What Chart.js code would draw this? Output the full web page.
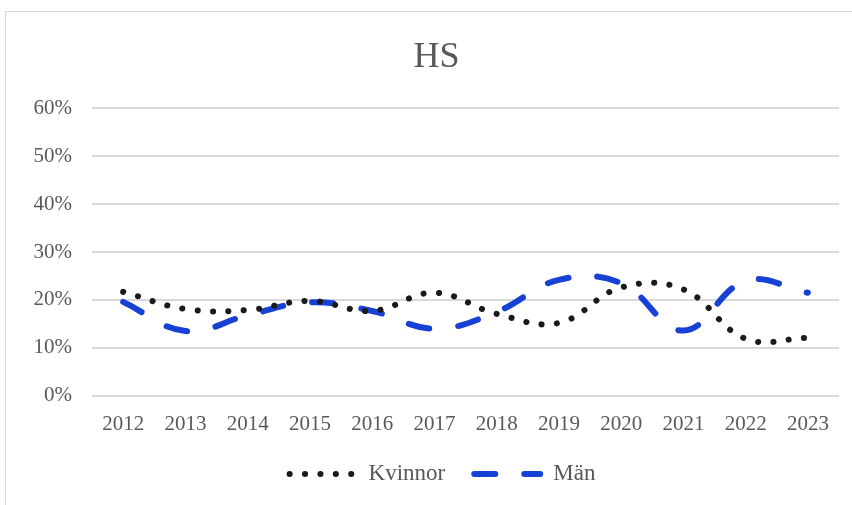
<!DOCTYPE html>
<html>
<head>
  <title>HS</title>
  <script src="https://cdn.jsdelivr.net/npm/chart.js"></script>
  <style>
    body { margin: 0; background: white; }
    #wrap {
      position: absolute;
      left: 5px;
      top: 11px;
      width: 850px;
      height: 496px;
      border: 1px solid #d9d9d9;
    }
  </style>
</head>
<body>
  <div id="wrap"><canvas id="hsChart"></canvas></div>

  <script>
    const years = ["2012", "2013", "2014", "2015", "2016", "2017", "2018", "2019", "2020", "2021", "2022", "2023"];
    const kvinnor = [21.7, 18.1, 17.9, 19.8, 17.7, 21.5, 17.1, 15.2, 22.6, 22.2, 11.9, 12.1];
    const man = [19.6, 13.5, 16.8, 19.5, 17.7, 14.0, 17.5, 24.2, 23.5, 13.6, 24.0, 21.5];
    const yTicks = [0, 10, 20, 30, 40, 50, 60];

    const serif = "Liberation Serif";
    const grey = "#595959";

    // legend drawn by hand so the dotted / dashed styles show up
    const lineLegend = {
      id: 'lineLegend',
      afterDraw(chart) {
        const c = chart.ctx;
        const lineW = 72, gap = 10, between = 26;
        c.save();
        c.font = "23px " + serif;
        const items = chart.data.datasets.map(ds => ({ ds, w: c.measureText(ds.label).width }));
        const total = items.reduce((s, it) => s + lineW + gap + it.w, 0) + between * (items.length - 1);
        let x = chart.width / 2 + 10 - total / 2;
        const y = 462;
        items.forEach(it => {
          c.beginPath();
          c.setLineDash(it.ds.borderDash);
          c.lineCap = it.ds.borderCapStyle;
          c.lineWidth = it.ds.borderWidth;
          c.strokeStyle = it.ds.borderColor;
          c.moveTo(x + 3, y);
          c.lineTo(x + lineW - 3, y);
          c.stroke();
          c.setLineDash([]);
          c.fillStyle = grey;
          c.textBaseline = 'middle';
          c.fillText(it.ds.label, x + lineW + gap, y);
          x += lineW + gap + it.w + between;
        });
        c.restore();
      }
    };

    const ctx = document.getElementById('hsChart').getContext('2d');
    new Chart(ctx, {
      type: 'line',
      data: {
        labels: years,
        datasets: [{
          label: "Kvinnor",
          data: kvinnor,
          borderColor: "#1a1a1a",
          borderWidth: 6,
          borderDash: [0.1, 15.3],
          borderCapStyle: 'round',
          pointRadius: 0,
          tension: 0.4,
          fill: false
        }, {
          label: "Män",
          data: man,
          borderColor: "#1740d4",
          borderWidth: 6,
          borderDash: [21, 29],
          borderCapStyle: 'round',
          pointRadius: 0,
          tension: 0.4,
          fill: false
        }]
      },
      options: {
        responsive: true,
        maintainAspectRatio: false,
        animation: false,
        layout: { padding: { left: 28, right: 17, top: 0, bottom: 63 } },
        plugins: {
          title: {
            display: true,
            text: "HS",
            color: grey,
            font: { family: serif, size: 36, weight: 'normal' },
            padding: { top: 24, bottom: 29 }
          },
          legend: { display: false },
          tooltip: { enabled: false }
        },
        scales: {
          x: {
            offset: true,
            grid: { display: false },
            border: { display: false },
            ticks: {
              color: grey,
              font: { family: serif, size: 21 },
              padding: 8,
              maxRotation: 0
            }
          },
          y: {
            min: 0,
            max: 60,
            afterFit: s => { s.width = 58; },
            afterBuildTicks: s => { s.ticks = yTicks.map(v => ({ value: v })); },
            grid: { color: "#d9d9d9", lineWidth: 2, drawTicks: false },
            border: { display: false },
            ticks: {
              color: grey,
              font: { family: serif, size: 21 },
              padding: 20,
              callback: v => v + "%"
            }
          }
        }
      },
      plugins: [lineLegend]
    });
  </script>
</body>
</html>
